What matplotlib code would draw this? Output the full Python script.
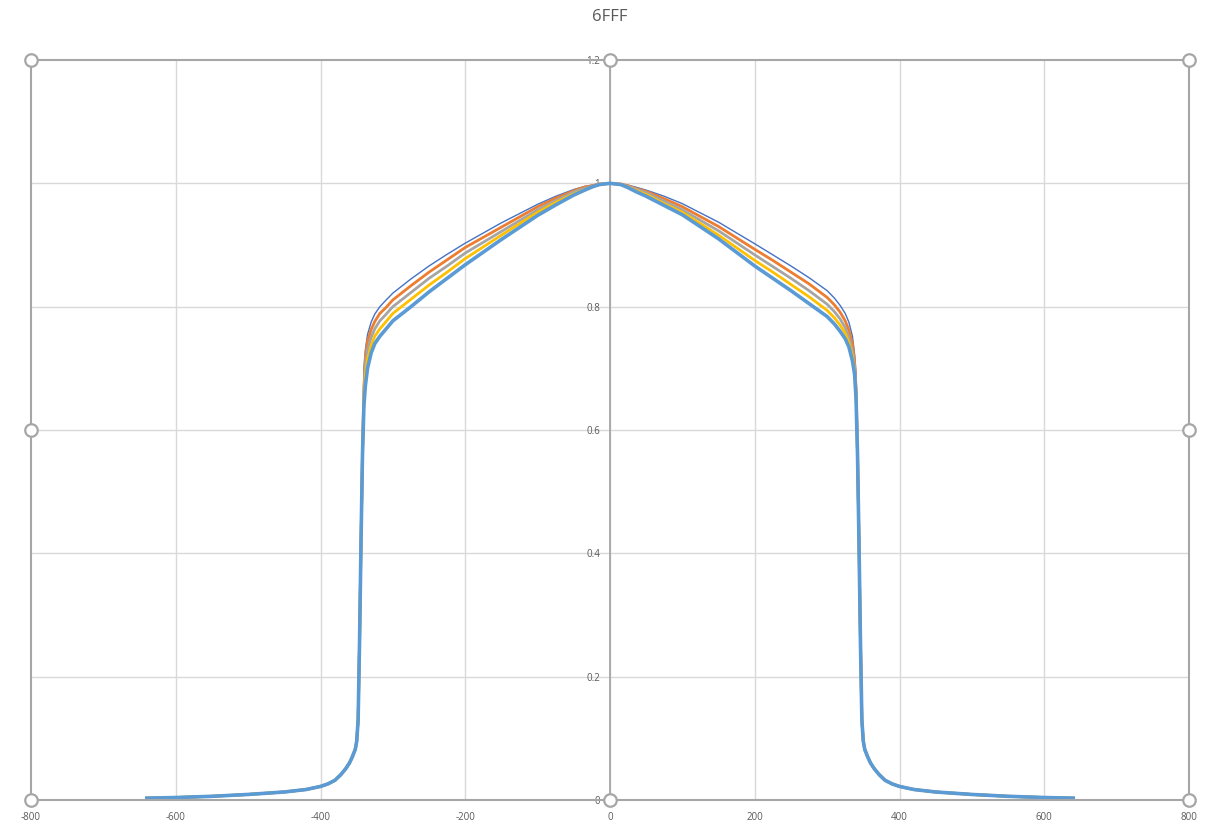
import matplotlib
matplotlib.use("Agg")
import matplotlib.pyplot as plt
from matplotlib.patches import Rectangle

# ---- data ----
tail_left_x = [-640, -600, -550, -500, -450, -420, -400, -390, -380, -372, -365, -360, -356,
               -352, -350, -348, -346, -344, -342]
tail_left_y = [0.003, 0.004, 0.006, 0.009, 0.013, 0.017, 0.022, 0.026, 0.032, 0.041, 0.051,
               0.060, 0.070, 0.082, 0.095, 0.13, 0.26, 0.42, 0.56]
core_x = [-340, -338, -335, -330, -325, -318, -310, -300, -275, -250, -225, -200, -150, -100,
          -75, -50, -35, -25, -15, 0, 15, 25, 35, 50, 75, 100, 150, 200, 225, 250, 275, 300,
          310, 318, 325, 330, 335, 338, 340]
tail_right_x = [342, 344, 346, 348, 350, 352, 356, 360, 365, 372, 380, 390, 400, 420, 450,
                500, 550, 600, 640]
tail_right_y = [0.56, 0.42, 0.26, 0.13, 0.095, 0.082, 0.070, 0.060, 0.051, 0.041, 0.032,
                0.026, 0.022, 0.017, 0.013, 0.009, 0.006, 0.004, 0.003]

s1_core = [0.700, 0.730, 0.755, 0.775, 0.788, 0.800, 0.810, 0.822, 0.845, 0.866, 0.885, 0.903,
           0.936, 0.966, 0.979, 0.990, 0.995, 0.997, 0.999, 1.000,
           0.999, 0.997, 0.994, 0.989, 0.979, 0.967, 0.937, 0.902, 0.884, 0.866, 0.847, 0.826,
           0.814, 0.802, 0.789, 0.775, 0.752, 0.722, 0.690]
s2_core = [0.670, 0.718, 0.744, 0.763, 0.776, 0.789, 0.798, 0.811, 0.834, 0.856, 0.876, 0.896,
           0.929, 0.962, 0.976, 0.988, 0.994, 0.996, 0.999, 1.000,
           0.999, 0.996, 0.992, 0.987, 0.975, 0.962, 0.930, 0.893, 0.875, 0.856, 0.837, 0.815,
           0.803, 0.791, 0.777, 0.762, 0.740, 0.710, 0.668]
s3_core = [0.660, 0.705, 0.730, 0.750, 0.764, 0.777, 0.787, 0.800, 0.823, 0.846, 0.866, 0.887,
           0.922, 0.957, 0.972, 0.986, 0.992, 0.995, 0.998, 1.000,
           0.998, 0.995, 0.991, 0.985, 0.971, 0.957, 0.923, 0.884, 0.865, 0.846, 0.826, 0.804,
           0.792, 0.780, 0.766, 0.750, 0.728, 0.700, 0.660]
s4_core = [0.650, 0.690, 0.715, 0.737, 0.752, 0.764, 0.775, 0.789, 0.812, 0.835, 0.856, 0.878,
           0.916, 0.953, 0.969, 0.983, 0.990, 0.994, 0.998, 1.000,
           0.998, 0.994, 0.989, 0.982, 0.967, 0.953, 0.916, 0.875, 0.856, 0.836, 0.816, 0.794,
           0.782, 0.770, 0.757, 0.742, 0.720, 0.695, 0.655]
s5_core = [0.640, 0.672, 0.700, 0.725, 0.740, 0.752, 0.763, 0.777, 0.800, 0.824, 0.846, 0.868,
           0.909, 0.948, 0.965, 0.981, 0.989, 0.994, 0.998, 1.000,
           0.998, 0.993, 0.987, 0.979, 0.964, 0.949, 0.910, 0.866, 0.846, 0.826, 0.805, 0.784,
           0.772, 0.760, 0.748, 0.735, 0.712, 0.690, 0.650]

x_pos = tail_left_x + core_x + tail_right_x
series = [tail_left_y + s + tail_right_y for s in (s1_core, s2_core, s3_core, s4_core, s5_core)]
colors = ["#4472C4", "#ED7D31", "#A5A5A5", "#FFC000", "#5B9BD5"]
widths = [1.0, 2.0, 2.0, 2.0, 2.6]

title = "6FFF"
x_ticks = [-800, -600, -400, -200, 0, 200, 400, 600, 800]
y_ticks = [0, 0.2, 0.4, 0.6, 0.8, 1.0, 1.2]
y_labels = ["0", "0.2", "0.4", "0.6", "0.8", "1", "1.2"]

# ---- figure ----
W, H = 1207, 825
fig = plt.figure(figsize=(W / 100, H / 100), dpi=100)
plt.rcParams["font.family"] = ["Open Sans", "DejaVu Sans"]
ax = fig.add_axes([31 / W, (H - 800) / H, (1189 - 31) / W, (800 - 60) / H])
ax.set_xlim(-800, 800)
ax.set_ylim(0, 1.2)

grid_c = "#D9D9D9"
for xv in x_ticks[1:-1]:
    ax.axvline(xv, color=grid_c, lw=1.0, zorder=1)
for yv in y_ticks[1:-1]:
    ax.axhline(yv, color=grid_c, lw=1.0, zorder=1)

for ys, c, w in zip(series, colors, widths):
    ax.plot(x_pos, ys, color=c, lw=w, zorder=3, solid_joinstyle="round")

for sp in ["top", "right", "bottom"]:
    ax.spines[sp].set_visible(False)
ax.spines["left"].set_position(("data", 0))
ax.spines["left"].set_color("#A6A6A6")
ax.spines["left"].set_linewidth(1.3)
ax.spines["left"].set_zorder(2)

ax.set_xticks(x_ticks)
ax.set_xticklabels([str(v) for v in x_ticks])
ax.set_yticks(y_ticks)
ax.set_yticklabels(y_labels)
ax.tick_params(axis="both", length=0, labelsize=7, labelcolor="#595959")
ax.tick_params(axis="x", pad=9)
ax.tick_params(axis="y", pad=7)

border = Rectangle((0, 0), 1, 1, transform=ax.transAxes, fill=False,
                   edgecolor="#A6A6A6", lw=1.5, clip_on=False, zorder=4)
ax.add_patch(border)

hx = [0, 0.5, 1, 0, 1, 0, 0.5, 1]
hy = [1, 1, 1, 0.5, 0.5, 0, 0, 0]
ax.plot(hx, hy, linestyle="none", marker="o", markersize=9,
        markerfacecolor="white", markeredgecolor="#A6A6A6", markeredgewidth=1.6,
        transform=ax.transAxes, clip_on=False, zorder=6)

fig.text(610 / W, 1 - 17 / H, title, ha="center", va="center", fontsize=12,
         color="#595959")

fig.savefig("out.png", dpi=100, facecolor="white")
